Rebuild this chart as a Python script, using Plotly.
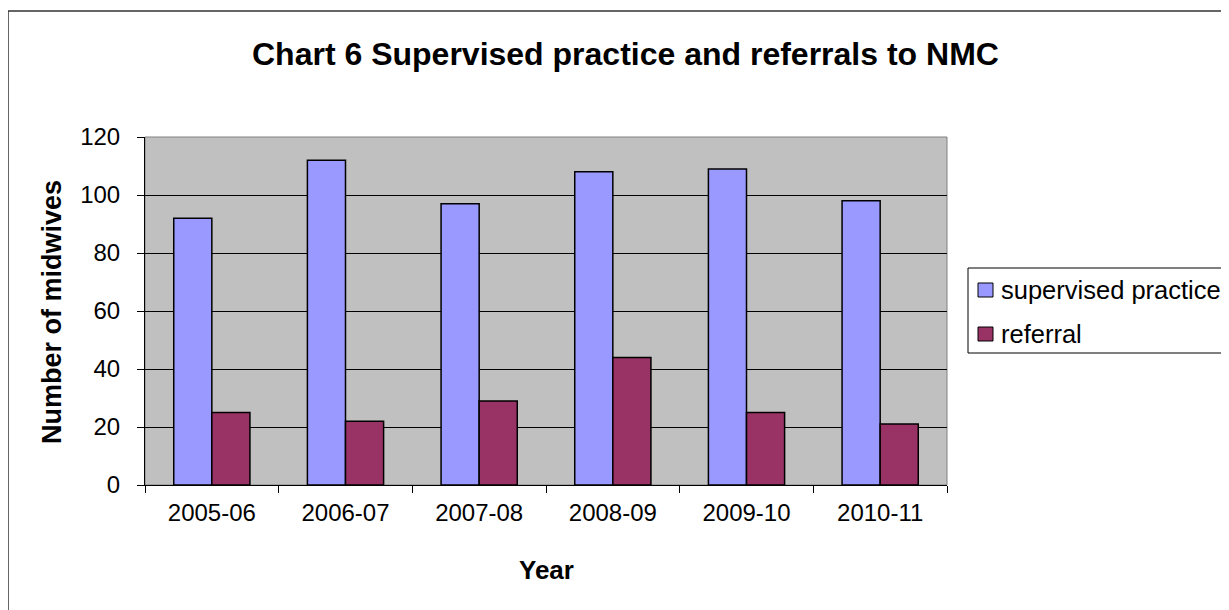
import plotly.graph_objects as go

years = ["2005-06", "2006-07", "2007-08", "2008-09", "2009-10", "2010-11"]
supervised = [92, 112, 97, 108, 109, 98]
referral = [25, 22, 29, 44, 25, 21]
y_ticks = [0, 20, 40, 60, 80, 100, 120]
series_names = ["supervised practice", "referral"]
series_colors = ["#9999FF", "#993366"]

FONT = "Liberation Sans, Arial, sans-serif"

fig = go.Figure()
for name, vals, col in zip(series_names, [supervised, referral], series_colors):
    fig.add_trace(go.Bar(x=years, y=vals, name=name,
                         marker=dict(color=col, line=dict(color="black", width=1.5))))

OFF = 8  # page body margin
L, R, T, B = 145, 947, 137, 485  # page coordinates of plot area
W, H = 1229, 610
FW, FH = W - OFF, H - OFF
pw, ph = R - L, B - T


def px(x):
    return (x - L) / pw


def py(y):
    return (B - y) / ph


shapes = [
    dict(type="rect", xref="paper", yref="paper", x0=0, x1=1, y0=0, y1=1,
         line=dict(color="#808080", width=1), layer="below"),
    dict(type="rect", xref="paper", yref="paper",
         x0=px(8), x1=px(W + 40), y0=py(H + 20), y1=py(11),
         line=dict(color="#333333", width=1.5)),
    # legend box
    dict(type="rect", xref="paper", yref="paper",
         x0=px(968), x1=px(W + 40), y0=py(353), y1=py(268),
         fillcolor="white", line=dict(color="black", width=1)),
]
annotations = [
    dict(text="<b>Chart 6 Supervised practice and referrals to NMC</b>",
         xref="paper", yref="paper", x=px(625), y=py(54),
         xanchor="center", yanchor="middle", showarrow=False,
         font=dict(family=FONT, size=32, color="black")),
    dict(text="<b>Number of midwives</b>",
         xref="paper", yref="paper", x=px(52), y=py(312),
         xanchor="center", yanchor="middle", showarrow=False, textangle=-90,
         font=dict(family=FONT, size=27, color="black")),
    dict(text="<b>Year</b>",
         xref="paper", yref="paper", x=px(546), y=py(570),
         xanchor="center", yanchor="middle", showarrow=False,
         font=dict(family=FONT, size=26, color="black")),
]
legend_rows = [290, 334]
for name, col, yc in zip(series_names, series_colors, legend_rows):
    shapes.append(dict(type="rect", xref="paper", yref="paper",
                       x0=px(978), x1=px(993), y0=py(yc + 7), y1=py(yc - 7),
                       fillcolor=col, line=dict(color="black", width=1)))
    annotations.append(dict(text=name, xref="paper", yref="paper",
                            x=px(999), y=py(yc), xanchor="left", yanchor="middle",
                            showarrow=False,
                            font=dict(family=FONT, size=25.5, color="black")))

fig.update_layout(
    width=FW, height=FH,
    margin=dict(l=L - OFF, r=FW - (R - OFF), t=T - OFF, b=FH - (B - OFF)),
    paper_bgcolor="white",
    plot_bgcolor="#C0C0C0",
    barmode="group",
    bargap=0.43,
    bargroupgap=0,
    font=dict(family=FONT, size=24, color="black"),
    showlegend=False,
    xaxis=dict(
        type="category",
        showgrid=False, ticks="outside", tickson="boundaries", ticklen=7,
        tickcolor="black", linecolor="black", showline=True, linewidth=1,
        tickfont=dict(size=24), ticklabelstandoff=6,
    ),
    yaxis=dict(
        range=[0, 120], tickvals=y_ticks, showgrid=True, gridcolor="black", gridwidth=1,
        ticks="outside", ticklen=7, tickcolor="black", linecolor="black",
        showline=True, linewidth=1, zeroline=False,
        tickfont=dict(size=24), ticklabelstandoff=12,
    ),
    shapes=shapes,
    annotations=annotations,
)

fig.write_html("out.html")
